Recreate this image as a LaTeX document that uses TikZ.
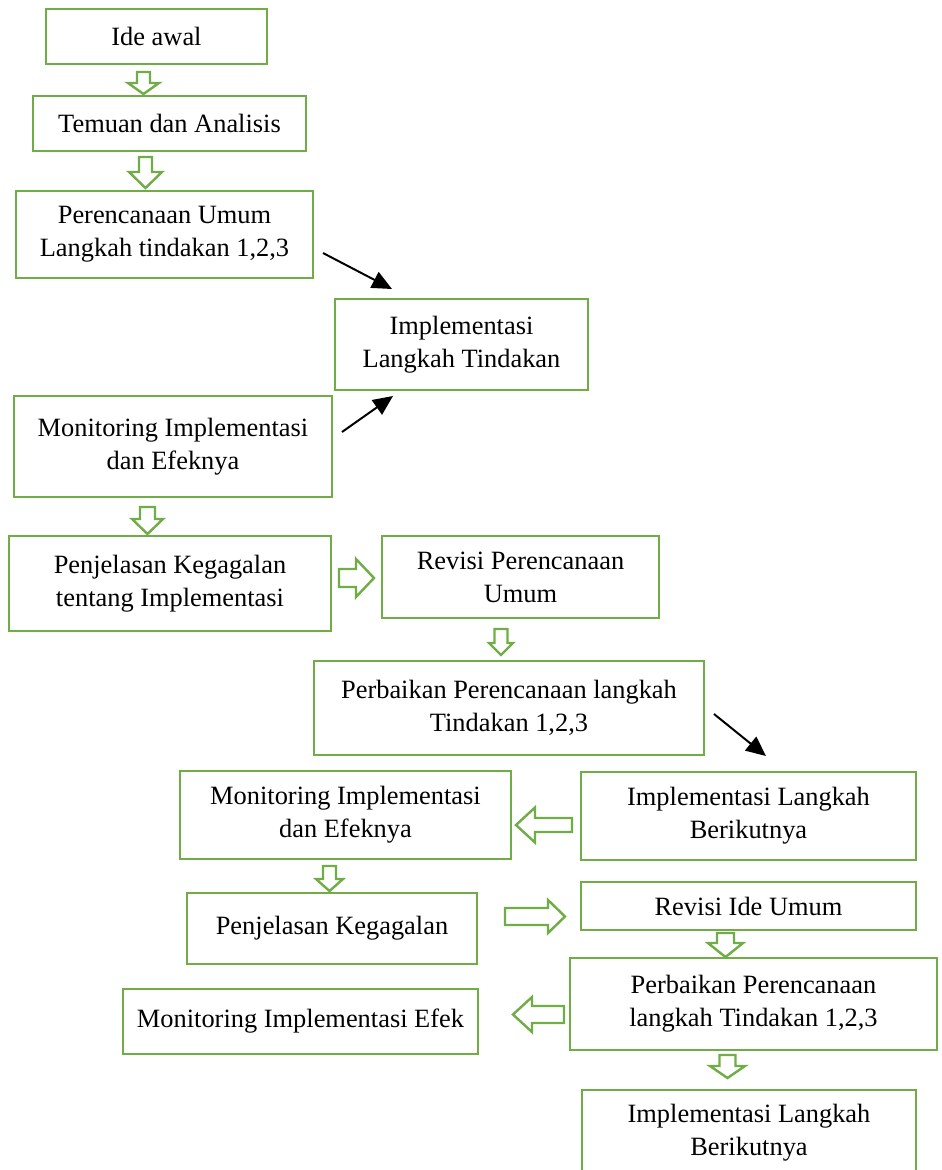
\documentclass[tikz,border=0pt]{standalone}
\usepackage{fontspec}
\setmainfont{Liberation Serif}
\usetikzlibrary{arrows.meta}

\definecolor{boxgreen}{RGB}{112,173,71}
\def\pxu{0.4545pt}

\tikzset{
  box/.style={draw=boxgreen, line width=1.1pt, align=center, inner sep=0pt,
    font=\fontsize{12}{15}\selectfont},
  boxsize/.style 2 args={minimum width=#1*\pxu, minimum height=#2*\pxu},
  greenline/.style={draw=boxgreen, line width=1.1pt, line join=miter},
  blackarrow/.style={line width=0.9pt, -{Triangle[length=9pt,width=8pt]}},
  % hollow block arrow: length/head length/shaft half width/head half width
  pics/barrow/.style args={#1/#2/#3/#4}{code={
    \draw[greenline] (0,-#3) -- ({#1-#2},-#3) -- ({#1-#2},-#4) -- (#1,0)
      -- ({#1-#2},#4) -- ({#1-#2},#3) -- (0,#3) -- cycle;}}
}

\begin{document}
\begin{tikzpicture}[x=\pxu, y=-\pxu]

  \useasboundingbox (0,0) rectangle (942,1170);

  % First cycle
  \node[box, boxsize={221}{55}] (ideawal) at (156.5,36.5) {Ide awal};
  \node[box, boxsize={273}{55}] (temuan) at (169.5,123.5) {Temuan dan Analisis};
  \node[box, boxsize={297}{87}] (rencana) at (164.5,234.5) {Perencanaan Umum\\Langkah tindakan 1,2,3};
  \node[box, boxsize={253}{91}] (implementasi) at (461.5,344.5) {Implementasi\\Langkah Tindakan};
  \node[box, boxsize={318}{101}] (monitor) at (173,446.5) {Monitoring Implementasi\\dan Efeknya};
  \node[box, boxsize={322}{95}] (gagal) at (170,583.5) {Penjelasan Kegagalan\\tentang Implementasi};
  \node[box, boxsize={277}{82}] (revisi) at (520.5,577) {Revisi Perencanaan\\Umum};

  % Second cycle
  \node[box, boxsize={390}{94}] (perbaikan) at (509,708) {Perbaikan Perencanaan langkah\\Tindakan 1,2,3};
  \node[box, boxsize={335}{88}] (lanjut) at (748.5,816) {Implementasi Langkah\\Berikutnya};
  \node[box, boxsize={331}{88}] (monitordua) at (345.5,815) {Monitoring Implementasi\\dan Efeknya};
  \node[box, boxsize={290}{71}] (gagaldua) at (332,928.5) {Penjelasan Kegagalan};
  \node[box, boxsize={335}{48}] (revisiide) at (748.5,906) {Revisi Ide Umum};

  % Third cycle
  \node[box, boxsize={367}{92}] (perbaikandua) at (753.5,1004) {Perbaikan Perencanaan\\langkah Tindakan 1,2,3};
  \node[box, boxsize={355}{65}] (monitorefek) at (300.5,1021.5) {Monitoring Implementasi Efek};
  \node[box, boxsize={334}{86}] (lanjutdua) at (749,1133) {Implementasi Langkah\\Berikutnya};

  % Hollow block arrows
  \pic[rotate=-90] at (143.5,72) {barrow=22/11/6.5/15.5};
  \pic[rotate=-90] at (145.5,157) {barrow=31/16/6.5/16.5};
  \pic[rotate=-90] at (147.5,507) {barrow=27/15/7.5/15.5};
  \pic at (339,578) {barrow=35/18/9/19};
  \pic[rotate=-90] at (501,629) {barrow=26/12/6.5/12};
  \pic[rotate=180] at (572,825) {barrow=56/19/7/17.5};
  \pic[rotate=-90] at (329.5,866) {barrow=25/12/6.5/13.5};
  \pic at (505,916.5) {barrow=60/17/8.5/16.5};
  \pic[rotate=-90] at (725.5,933) {barrow=24/14/8.5/17.5};
  \pic[rotate=180] at (564,1014.5) {barrow=51/19/8.5/17.5};
  \pic[rotate=-90] at (727.5,1055) {barrow=23/12/8/17.5};

  % Black arrows
  \coordinate (r1) at (323,253);
  \coordinate (i1) at (392,289);
  \coordinate (m1) at (342,432);
  \coordinate (i2) at (393,396);
  \coordinate (p1) at (714,714);
  \coordinate (l1) at (766,756);
  \draw[blackarrow] (r1) -- (i1);
  \draw[blackarrow] (m1) -- (i2);
  \draw[blackarrow] (p1) -- (l1);

\end{tikzpicture}
\end{document}
